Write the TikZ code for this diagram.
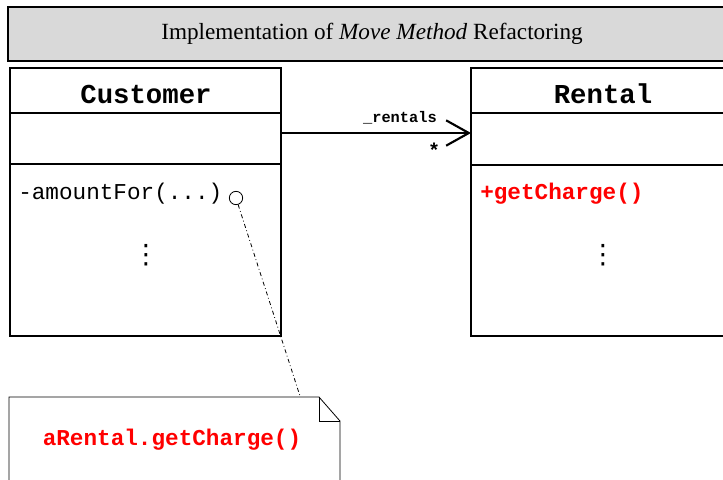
\documentclass[tikz,border=0pt]{standalone}
\usepackage{fontspec}
\setmainfont{Liberation Serif}
\newfontfamily\codefont{Liberation Mono}
\newfontfamily\symfont{DejaVu Sans}
\usetikzlibrary{arrows.meta}
\definecolor{titlegray}{HTML}{D9D9D9}
\definecolor{codered}{HTML}{FF0000}
\begin{document}
\begin{tikzpicture}[x=0.75pt,y=-0.75pt,
  classbox/.style={draw=black,line width=1.6pt},
  classname/.style={font=\codefont\bfseries\fontsize{20.5}{24}\selectfont,inner sep=0pt},
  member/.style={font=\codefont\fontsize{17}{20}\selectfont,inner sep=0pt,anchor=west},
  newmember/.style={member,text=codered,font=\codefont\bfseries\fontsize{17}{20}\selectfont},
  vdots/.style={font=\symfont\fontsize{20}{24}\selectfont,inner sep=0pt}]
\useasboundingbox (0,0) rectangle (723,479);

% title banner
\draw[fill=titlegray,line width=1.8pt] (8,7) rectangle (740,61);
\node[font=\fontsize{17.4}{20}\selectfont] (title) at (372,34)
  {Implementation of \textit{Move Method} Refactoring};

% Customer class
\draw[classbox] (10,68) rectangle (281,336);
\draw[classbox] (10,113) -- (281,113);
\draw[classbox] (10,164) -- (281,164);
\node[classname] (cust) at (146,94) {Customer};
\node[member] (amount) at (18,194) {-amountFor(...)};
\node[vdots] (cdots) at (146,255) {⋮};
\coordinate (custE) at (281,133);

% Rental class
\draw[classbox] (471,68) rectangle (740,336);
\draw[classbox] (471,113) -- (740,113);
\draw[classbox] (471,165) -- (740,165);
\node[classname] (rent) at (603,94) {Rental};
\node[newmember] (charge) at (480,194) {+getCharge()};
\node[vdots] (rdots) at (603,255) {⋮};
\coordinate (rentW) at (471,133);

% association
\draw[line width=1.6pt,-{Straight Barb[length=17pt,width=19pt,line width=1.6pt]}] (custE) -- (rentW);
\node[font=\codefont\bfseries\fontsize{11.5}{14}\selectfont,inner sep=0pt,anchor=south east] (role) at (437,124) {\_rentals};
\node[font=\codefont\bfseries\fontsize{15}{18}\selectfont,inner sep=0pt] (mult) at (434,150) {*};

% note attached to amountFor
\node[draw,circle,line width=0.6pt,minimum size=10pt,inner sep=0pt] (anchorpt) at (236,198) {};
\draw[line width=0.6pt] (9,480) -- (9,397) -- (319,397) -- (340,421) -- (340,480);
\draw[line width=0.6pt] (319,397) -- (319,421) -- (340,421);
\coordinate (notetop) at (300,396);
\draw[line width=0.6pt,dash dot] (anchorpt) -- (notetop);
\node[newmember,anchor=center] (body) at (172,440) {aRental.getCharge()};
\end{tikzpicture}
\end{document}
